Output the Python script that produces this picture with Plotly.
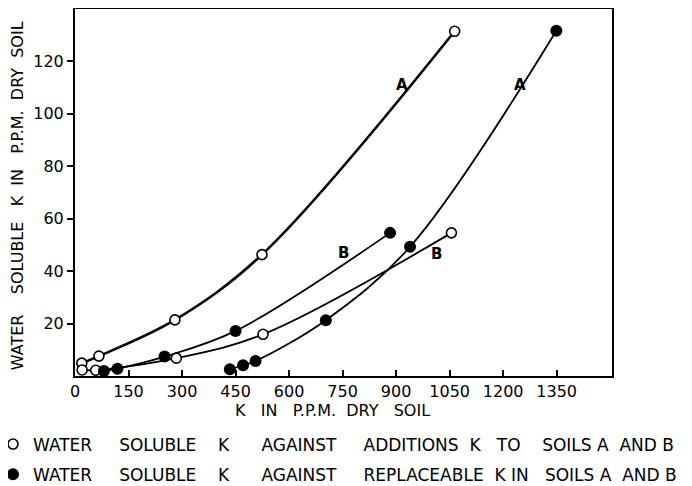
import plotly.graph_objects as go

# ---- data ----
# open circles: water soluble K against additions of K
add_A_x = [19, 67, 280, 524, 1064]
add_A_y = [4.9, 7.6, 21.4, 46.3, 131.5]
add_B_x = [20, 58, 284, 527, 1055]
add_B_y = [2.3, 2.2, 6.8, 15.9, 54.6]
# filled circles: water soluble K against replaceable K
rep_A_x = [434, 471, 506, 703, 939, 1349]
rep_A_y = [2.6, 4.1, 5.7, 21.3, 49.3, 131.7]
rep_B_x = [81, 119, 251, 450, 883]
rep_B_y = [1.9, 2.8, 7.4, 17.2, 54.6]

x_ticks = [0, 150, 300, 450, 600, 750, 900, 1050, 1200, 1350]
y_ticks = [20, 40, 60, 80, 100, 120]

curve_labels = ["A", "B", "A", "B"]
label_x = [917, 752, 1246, 1013]
label_y = [111, 47, 111, 46.5]

NB = "\u00a0"


def spaced(words, gaps):
    out = words[0]
    for w, g in zip(words[1:], gaps):
        out += NB * g + w
    return out


legend_open = spaced(["WATER", "SOLUBLE", "K", "AGAINST", "ADDITIONS", "K", "TO", "SOILS", "A", "AND", "B"],
                     [5, 4, 6, 5, 2, 3, 4, 1, 2, 1])
legend_fill = spaced(["WATER", "SOLUBLE", "K", "AGAINST", "REPLACEABLE", "K", "IN", "SOILS", "A", "AND", "B"],
                     [5, 4, 6, 5, 2, 1, 3, 1, 2, 1])
y_title = spaced(["WATER", "SOLUBLE", "K", "IN", "P.P.M.", "DRY", "SOIL"], [4, 3, 2, 3, 2, 2])
x_title = spaced(["K", "IN", "P.P.M.", "DRY", "SOIL"], [3, 3, 2, 3])

FONT = "DejaVu Sans"

fig = go.Figure()


def curve(xs, ys, width):
    fig.add_trace(go.Scatter(x=xs, y=ys, mode="lines",
                             line=dict(color="black", width=width, shape="spline", smoothing=1.0),
                             showlegend=False, hoverinfo="skip"))


curve(add_A_x, add_A_y, 2.6)
curve(add_B_x, add_B_y, 1.8)
curve(rep_A_x, rep_A_y, 1.8)
curve(rep_B_x, rep_B_y, 1.8)

open_marker = dict(symbol="circle", size=10, color="white", line=dict(color="black", width=1.6))
fill_marker = dict(symbol="circle", size=12, color="black", line=dict(color="black", width=0))

fig.add_trace(go.Scatter(x=add_A_x + add_B_x, y=add_A_y + add_B_y, mode="markers",
                         marker=open_marker, name=legend_open, legendgroup="o"))
fig.add_trace(go.Scatter(x=rep_A_x + rep_B_x, y=rep_A_y + rep_B_y, mode="markers",
                         marker=fill_marker, name=legend_fill, legendgroup="f"))

for t, lx, ly in zip(curve_labels, label_x, label_y):
    fig.add_annotation(x=lx, y=ly, text="<b>" + t + "</b>", showarrow=False,
                       font=dict(family=FONT, size=15, color="black"))

fig.add_annotation(xref="paper", yref="paper", x=-0.108, y=0.49, xanchor="center", yanchor="middle",
                   text=y_title, textangle=-90, showarrow=False,
                   font=dict(family=FONT, size=16, color="black"))
fig.add_annotation(xref="paper", yref="paper", x=0.4795, y=-0.095, xanchor="center", yanchor="middle",
                   text=x_title, showarrow=False,
                   font=dict(family=FONT, size=16, color="black"))

# page body adds an 8px offset; figure is sized so that it ends at the window edge
fig.update_layout(
    width=684, height=478,
    margin=dict(l=67, r=80, t=1, b=110, autoexpand=False),
    paper_bgcolor="white", plot_bgcolor="white",
    font=dict(family=FONT, size=15, color="black"),
    showlegend=True,
    legend=dict(xref="container", yref="container", x=0.0, y=0.1245, xanchor="left", yanchor="top",
                font=dict(family=FONT, size=17, color="black"),
                itemwidth=30, tracegroupgap=5, bgcolor="rgba(0,0,0,0)",
                indentation=-15),
)
fig.update_xaxes(range=[0, 1505], tickvals=x_ticks, ticktext=[str(v) for v in x_ticks],
                 ticks="inside", ticklen=6, tickcolor="black", tickwidth=1.5,
                 showline=True, linecolor="black", linewidth=2, mirror=True,
                 showgrid=False, zeroline=False,
                 tickfont=dict(family=FONT, size=16, color="black"))
fig.update_yaxes(range=[0, 140], tickvals=y_ticks, ticktext=[str(v) for v in y_ticks],
                 ticks="outside", ticklen=6, tickcolor="black", tickwidth=1.5,
                 showline=True, linecolor="black", linewidth=2, mirror=True,
                 showgrid=False, zeroline=False,
                 tickfont=dict(family=FONT, size=16, color="black"))

fig.write_html("out.html")
